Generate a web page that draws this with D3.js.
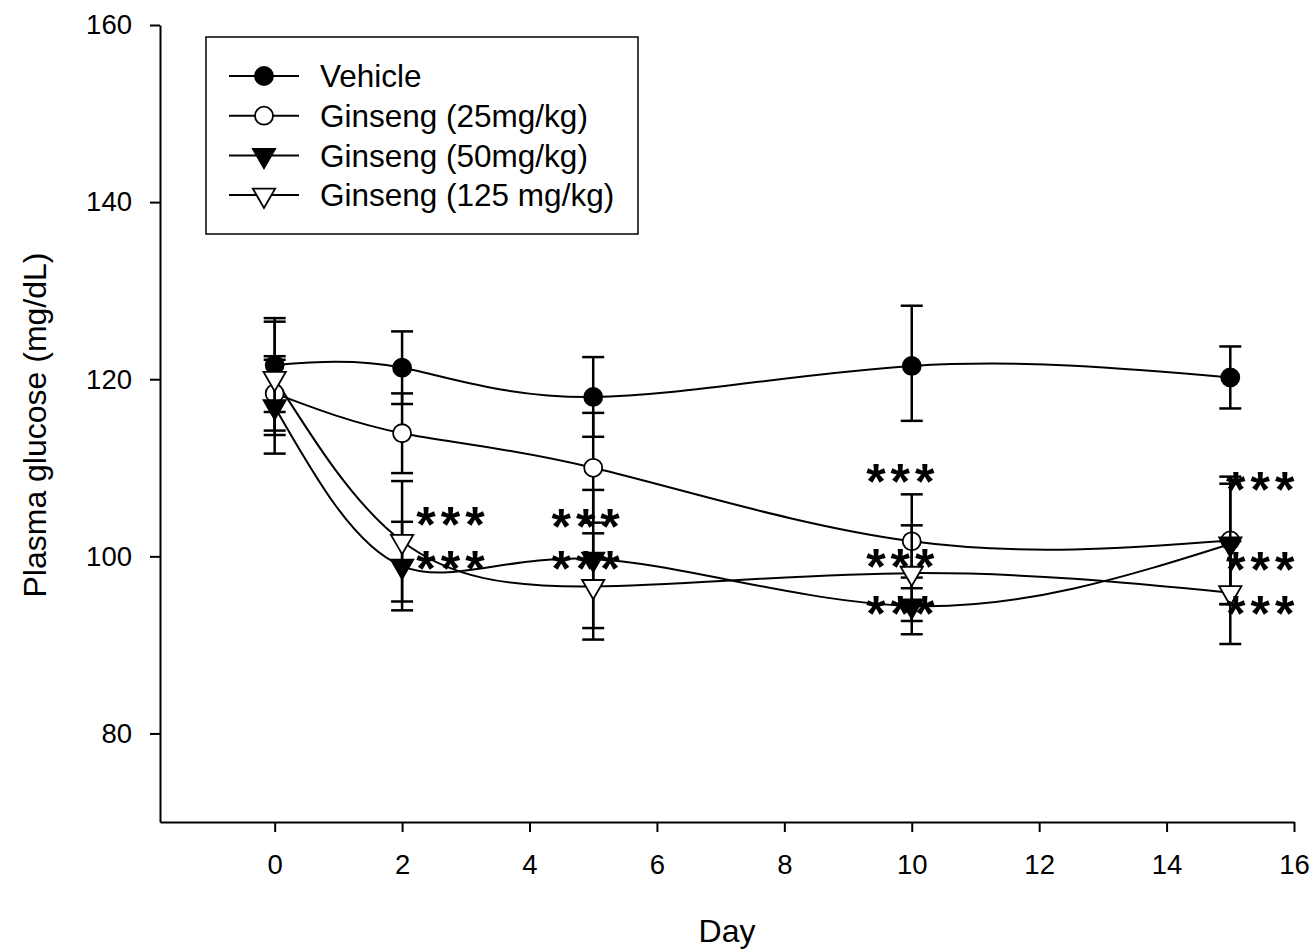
<!DOCTYPE html>
<html>
<head>
<meta charset="utf-8">
<script src="https://cdn.jsdelivr.net/npm/d3@7"></script>
<style>
  body { margin: 0; background: #fff; }
  text { font-family: Arial, "Liberation Sans", sans-serif; fill: #000; }
</style>
</head>
<body>
<svg id="canvas" width="1314" height="951"></svg>
<script>
// values
const days = [0, 2, 5, 10, 15]
const vehicleMean  = [121.6, 121.3, 118.0, 121.5, 120.2]
const vehicleErr   = [5.3, 4.1, 4.5, 6.2, 3.5]
const vehicleErrUp = [5.3, 4.1, 4.5, 6.8, 3.5]
const g25Mean = [118.4, 113.9, 110.0, 101.7, 101.8]
const g25Err  = [4.2, 4.5, 6.2, 5.3, 7.2]
const g50Mean = [116.9, 98.9, 99.7, 94.4, 101.4]
const g50Err  = [5.3, 5.0, 7.8, 3.2, 6.8]
const g125Mean = [120.1, 101.7, 96.6, 98.1, 95.9]
const g125Err  = [6.4, 6.8, 6.0, 5.4, 5.8]

const xTicks = [0, 2, 4, 6, 8, 10, 12, 14, 16]
const yTicks = [80, 100, 120, 140, 160]

// significance marks: [day, value]
const starDays   = [2.8, 2.8, 4.92, 4.92, 9.86, 9.86, 9.86, 15.51, 15.51, 15.51]
const starValues = [104.2, 99.2, 104.0, 99.2, 109.1, 99.5, 94.2, 108.2, 99.1, 94.2]

const series = [
  {name: "Vehicle", mean: vehicleMean, err: vehicleErr, errUp: vehicleErrUp, shape: "circle", fill: "#000"},
  {name: "Ginseng (25mg/kg)", mean: g25Mean, err: g25Err, shape: "circle", fill: "#fff"},
  {name: "Ginseng (50mg/kg)", mean: g50Mean, err: g50Err, shape: "tri", fill: "#000"},
  {name: "Ginseng (125 mg/kg)", mean: g125Mean, err: g125Err, shape: "tri", fill: "#fff"},
]

let canvas = d3.select("#canvas")

let x = d3.scaleLinear().domain([-1.8, 16]).range([160, 1294])
let y = d3.scaleLinear().domain([70, 160]).range([822, 25])

function marker(sel, shape, fill) {
  if (shape === "circle") {
    sel.append("circle").attr("r", 9)
  } else {
    sel.append("path")
       .attr("d", d3.symbol().type(d3.symbolTriangle).size(215)())
       .attr("transform", "rotate(180)")
  }
  sel.selectAll("circle, path")
     .attr("fill", fill)
     .attr("stroke", "#000")
     .attr("stroke-width", 1.8)
}

// axes
let xAxis = canvas.append("g")
                  .attr("transform", "translate(0,822)")
                  .call(d3.axisBottom(x).tickValues(xTicks).tickSize(10).tickSizeOuter(0).tickPadding(22))
let yAxis = canvas.append("g")
                  .attr("transform", "translate(160,0)")
                  .call(d3.axisLeft(y).tickValues(yTicks).tickSize(10).tickSizeOuter(0).tickPadding(18))

;[xAxis, yAxis].forEach((a) => {
  a.attr("font-size", null).attr("font-family", null)
  a.select(".domain").attr("stroke-width", 2)
  a.selectAll(".tick line").attr("stroke-width", 2)
  a.selectAll(".tick text").attr("font-size", 27.5)
})

canvas.append("text")
      .attr("x", x(7.1)).attr("y", 942)
      .attr("text-anchor", "middle")
      .attr("font-size", 32)
      .text("Day")

canvas.append("text")
      .attr("transform", "translate(46,425) rotate(-90)")
      .attr("text-anchor", "middle")
      .attr("font-size", 32)
      .text("Plasma glucose (mg/dL)")

// spline lines
let line = d3.line()
             .x((d) => x(d[0]))
             .y((d) => y(d[1]))
             .curve(d3.curveNatural)

series.forEach((s) => {
  canvas.append("path")
        .attr("d", line(days.map((d, i) => [d, s.mean[i]])))
        .attr("fill", "none")
        .attr("stroke", "#000")
        .attr("stroke-width", 2)
})

// error bars and markers, series by series
series.forEach((s) => {
  let g = canvas.append("g")
  let up = s.errUp || s.err
  days.forEach((d, i) => {
    let cx = x(d)
    let top = y(s.mean[i] + up[i])
    let bot = y(s.mean[i] - s.err[i])
    g.append("line").attr("x1", cx).attr("x2", cx).attr("y1", top).attr("y2", bot)
    g.append("line").attr("x1", cx - 11).attr("x2", cx + 11).attr("y1", top).attr("y2", top)
    g.append("line").attr("x1", cx - 11).attr("x2", cx + 11).attr("y1", bot).attr("y2", bot)
  })
  g.selectAll("line").attr("stroke", "#000").attr("stroke-width", 2.5)

  days.forEach((d, i) => {
    let m = g.append("g").attr("transform", "translate(" + x(d) + "," + y(s.mean[i]) + ")")
    marker(m, s.shape, s.fill)
  })
})

// significance stars
canvas.selectAll(".star")
      .data(starDays)
      .enter()
      .append("text")
      .attr("class", "star")
      .attr("x", (d) => x(d))
      .attr("y", (d, i) => y(starValues[i]))
      .attr("dy", 23)
      .attr("text-anchor", "middle")
      .attr("font-size", 50)
      .attr("font-weight", "bold")
      .attr("letter-spacing", 5)
      .text("***")

// legend
let legend = canvas.append("g")
legend.append("rect")
      .attr("x", 206).attr("y", 37)
      .attr("width", 432).attr("height", 197)
      .attr("fill", "#fff")
      .attr("stroke", "#000")
      .attr("stroke-width", 1.5)

series.forEach((s, i) => {
  let ly = 76 + i * 39.7
  legend.append("line")
        .attr("x1", 229).attr("x2", 299).attr("y1", ly).attr("y2", ly)
        .attr("stroke", "#000").attr("stroke-width", 2)
  let m = legend.append("g").attr("transform", "translate(264," + ly + ")")
  marker(m, s.shape, s.fill)
  legend.append("text")
        .attr("x", 320).attr("y", ly)
        .attr("dy", "0.36em")
        .attr("font-size", 31.5)
        .text(s.name)
})
</script>
</body>
</html>
